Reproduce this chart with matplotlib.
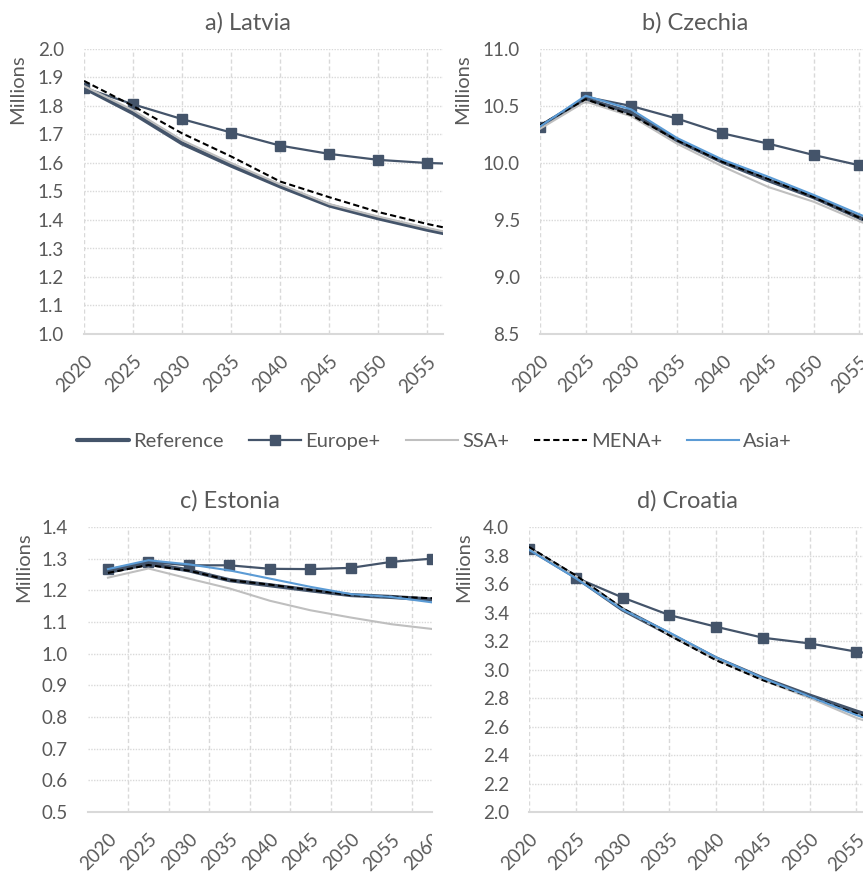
#!/usr/bin/env python3
"""Population projections by migration scenario, four small panels."""

import matplotlib
matplotlib.use("Agg")
import matplotlib.pyplot as plt
from matplotlib.lines import Line2D
from matplotlib.ticker import MultipleLocator, FixedLocator, FormatStrFormatter
from matplotlib.transforms import Bbox

plt.rcParams['font.family'] = ['Lato', 'DejaVu Sans']

YEARS = [2020, 2025, 2030, 2035, 2040, 2045, 2050, 2055, 2060]
SCENARIOS = ["Reference", "Europe+", "SSA+", "MENA+", "Asia+"]

# Latvia (millions)
latvia_reference = [1.864, 1.775, 1.669, 1.591, 1.518, 1.451, 1.406, 1.366, 1.330]
latvia_europe = [1.864, 1.806, 1.754, 1.707, 1.661, 1.632, 1.611, 1.600, 1.595]
latvia_ssa = [1.870, 1.785, 1.680, 1.600, 1.525, 1.456, 1.412, 1.372, 1.336]
latvia_mena = [1.888, 1.800, 1.704, 1.623, 1.535, 1.480, 1.428, 1.386, 1.350]
latvia_asia = None

# Czechia
czechia_reference = [10.32, 10.56, 10.44, 10.20, 10.01, 9.85, 9.70, 9.52, 9.35]
czechia_europe = [10.32, 10.58, 10.50, 10.39, 10.26, 10.17, 10.07, 9.98, 9.90]
czechia_ssa = [10.30, 10.54, 10.41, 10.17, 9.97, 9.79, 9.66, 9.49, 9.32]
czechia_mena = [10.33, 10.56, 10.42, 10.20, 10.01, 9.86, 9.70, 9.52, 9.35]
czechia_asia = [10.32, 10.59, 10.47, 10.22, 10.03, 9.88, 9.72, 9.55, 9.38]

# Estonia
estonia_reference = [1.258, 1.284, 1.263, 1.232, 1.216, 1.200, 1.185, 1.179, 1.171]
estonia_europe = [1.266, 1.290, 1.279, 1.279, 1.268, 1.267, 1.271, 1.290, 1.300]
estonia_ssa = [1.240, 1.269, 1.237, 1.206, 1.167, 1.137, 1.114, 1.093, 1.078]
estonia_mena = [1.255, 1.280, 1.262, 1.232, 1.218, 1.201, 1.185, 1.180, 1.175]
estonia_asia = [1.267, 1.295, 1.282, 1.263, 1.237, 1.211, 1.188, 1.179, 1.162]

# Croatia
croatia_reference = [3.848, 3.650, 3.421, 3.249, 3.078, 2.938, 2.817, 2.705, 2.600]
croatia_europe = [3.848, 3.645, 3.505, 3.382, 3.300, 3.223, 3.183, 3.125, 3.080]
croatia_ssa = [3.850, 3.655, 3.425, 3.245, 3.070, 2.925, 2.800, 2.660, 2.550]
croatia_mena = [3.860, 3.660, 3.430, 3.240, 3.065, 2.925, 2.810, 2.690, 2.590]
croatia_asia = [3.840, 3.640, 3.420, 3.260, 3.085, 2.940, 2.810, 2.680, 2.570]

# Excel-ish styling
C_DARK = '#44546A'
C_GRAY = '#BFBFBF'
C_BLUE = '#5B9BD5'
C_TEXT = '#595959'
C_GRID = '#D9D9D9'
TICK_FS = 13.5

STYLES = {
    "Reference": dict(color=C_DARK, lw=3.0, solid_capstyle='round'),
    "Europe+": dict(color=C_DARK, lw=1.6, marker='s', markersize=6.5),
    "SSA+": dict(color=C_GRAY, lw=1.5),
    "MENA+": dict(color='black', lw=1.5, dashes=(3, 1.6)),
    "Asia+": dict(color=C_BLUE, lw=1.5),
}

W, H = 863, 872
fig = plt.figure(figsize=(W / 100, H / 100), dpi=100)


def px_axes(left, top, right, bottom):
    return fig.add_axes([left / W, 1 - bottom / H, (right - left) / W, (bottom - top) / H])


def draw_panel(ax, series, ylim, ystep, xlim, between=False, clip_right=None):
    for name, vals in zip(SCENARIOS, series):
        if vals is None:
            continue
        ax.plot(YEARS, vals, **STYLES[name])
    ax.set_xlim(*xlim)
    ax.set_ylim(*ylim)
    ax.yaxis.set_major_locator(MultipleLocator(ystep))
    ax.yaxis.set_major_formatter(FormatStrFormatter('%.1f'))
    ax.xaxis.set_major_locator(FixedLocator(YEARS))
    for s in ('top', 'right', 'left'):
        ax.spines[s].set_visible(False)
    ax.spines['bottom'].set_color(C_GRID)
    ax.spines['bottom'].set_linewidth(1.5)
    ax.grid(axis='y', color=C_GRID, lw=1.0, ls=(0, (1, 1)))
    if between:
        # Estonia panel: category labels sit between the vertical gridlines
        ax.xaxis.set_minor_locator(FixedLocator([y - 2.5 for y in YEARS]))
        ax.grid(axis='x', which='minor', color=C_GRID, lw=1.0, ls=(0, (3, 2)))
        ax.tick_params(axis='x', which='minor', length=0)
    else:
        ax.grid(axis='x', which='major', color=C_GRID, lw=1.0, ls=(0, (3, 2)))
    ax.tick_params(axis='both', length=0, labelcolor=C_TEXT, labelsize=TICK_FS)
    ax.tick_params(axis='y', pad=14.5)
    ax.tick_params(axis='x', pad=13.5)
    for lab in ax.get_xticklabels():
        lab.set_rotation(45)
        lab.set_ha('right')
        lab.set_va('top')
        lab.set_rotation_mode('anchor')
    if clip_right is not None:
        box = Bbox.from_extents(0, 0, clip_right, H)
        for tick in ax.xaxis.get_major_ticks():
            tick.label1.set_clip_box(box)
            tick.label1.set_clip_on(True)
    ax.set_axisbelow(True)


ax_a = px_axes(84, 49, 443, 334)
draw_panel(ax_a, [latvia_reference, latvia_europe, latvia_ssa, latvia_mena, latvia_asia],
           (1.0, 2.0), 0.1, (2020, 2056.6))
ax_b = px_axes(540, 49, 863, 334)
draw_panel(ax_b, [czechia_reference, czechia_europe, czechia_ssa, czechia_mena, czechia_asia],
           (8.5, 11.0), 0.5, (2020, 2055.4))
ax_c = px_axes(88, 527, 432, 812)
draw_panel(ax_c, [estonia_reference, estonia_europe, estonia_ssa, estonia_mena, estonia_asia],
           (0.5, 1.4), 0.1, (2017.54, 2060.0), between=True, clip_right=432)
ax_d = px_axes(529, 527, 863, 812)
draw_panel(ax_d, [croatia_reference, croatia_europe, croatia_ssa, croatia_mena, croatia_asia],
           (2.0, 4.0), 0.2, (2020, 2055.7))

# titles and axis titles placed like the original Excel panels
titles = [("a) Latvia", 248, 23), ("b) Czechia", 695, 23),
          ("c) Estonia", 230, 501), ("d) Croatia", 687, 501)]
for txt, x, y in titles:
    fig.text(x / W, 1 - y / H, txt, ha='center', va='center', fontsize=17, color=C_TEXT)
for x, y in [(18, 89), (463, 89), (24, 567), (464, 567)]:
    fig.text(x / W, 1 - y / H, "Millions", rotation=90, ha='center', va='center',
             fontsize=14.5, color=C_TEXT)

handles = [Line2D([], [], **STYLES[n]) for n in SCENARIOS]
fig.legend(handles, SCENARIOS, loc='center', bbox_to_anchor=(434.5 / W, 1 - 441 / H),
           ncol=5, frameon=False, fontsize=14.5, handlelength=2.6, handletextpad=0.2,
           columnspacing=1.25, labelcolor=C_TEXT)

fig.savefig("out.png", dpi=100, facecolor='white')
